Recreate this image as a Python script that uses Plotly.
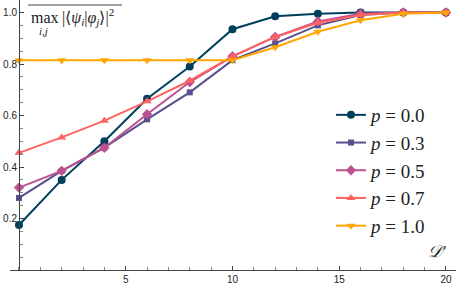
import plotly.graph_objects as go

x_vals = [0, 2, 4, 6, 8, 10, 12, 14, 16, 18, 20]
p00 = [0.175, 0.35, 0.50, 0.665, 0.79, 0.935, 0.985, 0.995, 1.0, 1.0, 1.0]
p03 = [0.28, 0.385, 0.475, 0.585, 0.69, 0.815, 0.88, 0.95, 0.99, 1.0, 1.0]
p05 = [0.32, 0.385, 0.475, 0.605, 0.73, 0.83, 0.905, 0.965, 0.995, 1.0, 1.0]
p07 = [0.455, 0.515, 0.58, 0.655, 0.735, 0.83, 0.905, 0.96, 0.99, 1.0, 1.0]
p10 = [0.815, 0.815, 0.815, 0.815, 0.815, 0.815, 0.865, 0.925, 0.97, 0.995, 1.0]

series = [
    ("<i>p</i> = 0.0", p00, "#003f5c", "circle", 8),
    ("<i>p</i> = 0.3", p03, "#58508d", "square", 6),
    ("<i>p</i> = 0.5", p05, "#bc5090", "diamond", 8),
    ("<i>p</i> = 0.7", p07, "#ff6361", "triangle-up", 8),
    ("<i>p</i> = 1.0", p10, "#ffa600", "triangle-down", 8),
]

y_ticks = [0.2, 0.4, 0.6, 0.8, 1.0]
y_tick_text = ["0.2", "0.4", "0.6", "0.8", "1.0"]
x_ticks = [5, 10, 15, 20]
x_tick_text = ["5", "10", "15", "20"]

fig = go.Figure()
for i, (name, ys, col, sym, sz) in enumerate(series):
    fig.add_trace(go.Scatter(
        x=x_vals, y=ys, mode="lines+markers", name=name,
        line=dict(color=col, width=2),
        marker=dict(symbol=sym, size=sz, color=col),
        legendgroup=str(i),
    ))

W, H = 456, 285
B = 15
PH = H - B
fig.update_layout(
    width=W, height=H,
    margin=dict(l=0, r=0, t=0, b=B),
    plot_bgcolor="white", paper_bgcolor="white",
    showlegend=True,
    legend=dict(
        x=331 / W, y=1 - 96 / PH, xanchor="left", yanchor="top",
        font=dict(family="Liberation Serif", size=19, color="#222"),
        bgcolor="rgba(0,0,0,0)", tracegroupgap=0, itemwidth=30,
    ),
    xaxis=dict(
        domain=[10 / W, 1], range=[-0.42, 20.47],
        showgrid=False, zeroline=False,
        showline=True, linecolor="#444", linewidth=1,
        tickmode="array", tickvals=x_ticks, ticktext=x_tick_text,
        ticks="inside", ticklen=4, tickcolor="#444",
        tickfont=dict(family="Liberation Sans", size=10, color="#222"),
        minor=dict(dtick=1, tick0=0, ticks="inside", ticklen=3, tickcolor="#888"),
    ),
    yaxis=dict(
        anchor="free", position=19 / W,
        range=[0, PH / 257.5],
        showgrid=False, zeroline=False,
        showline=True, linecolor="#444", linewidth=1,
        tickmode="array", tickvals=y_ticks, ticktext=y_tick_text,
        ticks="inside", ticklen=4, tickcolor="#444",
        tickfont=dict(family="Liberation Sans", size=10, color="#222"),
        minor=dict(dtick=0.05, tick0=0, ticks="inside", ticklen=3, tickcolor="#888"),
    ),
)

def ann(text, px, py, size, xanchor="left"):
    fig.add_annotation(
        x=px / W, y=1 - py / PH, xref="paper", yref="paper",
        xanchor=xanchor, yanchor="middle", text=text, showarrow=False,
        font=dict(family="Liberation Serif", size=size, color="#222"),
    )

ann("max", 29, 17, 16)
ann("<i>i,j</i>", 43, 31, 11, xanchor="center")
ann("|⟨<i>ψ<sub>i</sub></i>|<i>φ<sub>j</sub></i>⟩|<sup>2</sup>", 60, 17, 16)
fig.add_shape(type="line", xref="paper", yref="paper",
              x0=28 / W, x1=122 / W, y0=1 - 5 / PH, y1=1 - 5 / PH,
              line=dict(color="#444", width=1))
ann("<i>𝒟′</i>", 448, 251, 17, xanchor="right")

fig.write_html("out.html", config={"displayModeBar": False},
               post_script="document.body.style.margin='0';document.body.style.overflow='hidden';")
